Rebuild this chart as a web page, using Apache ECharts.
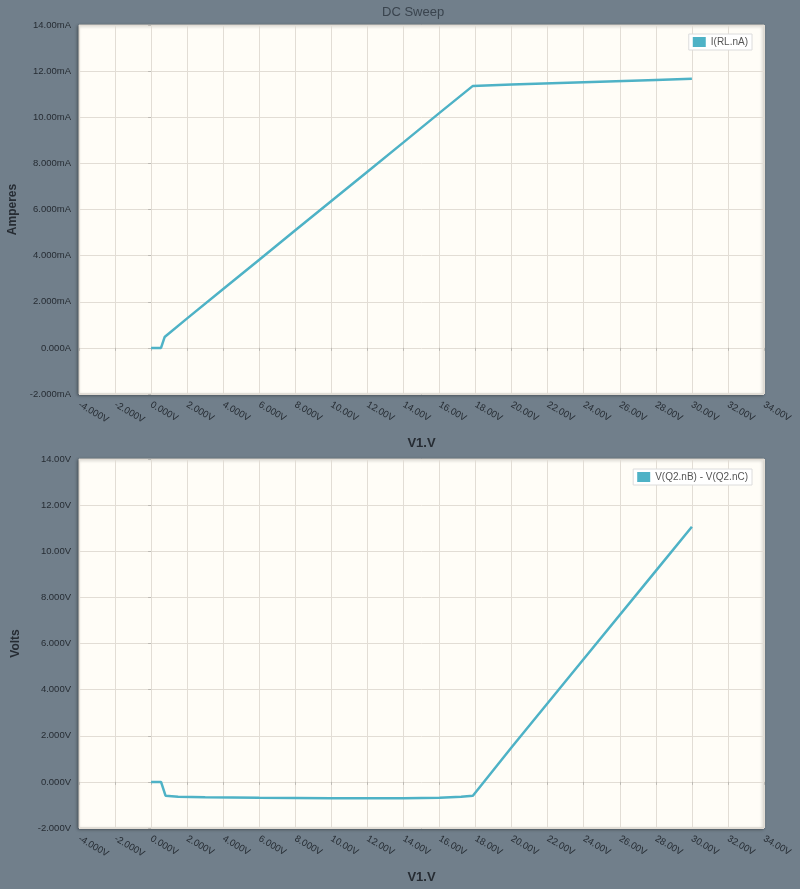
<!DOCTYPE html>
<html>
<head>
<meta charset="utf-8">
<title>DC Sweep</title>
<script src="https://cdn.jsdelivr.net/npm/echarts@6/dist/echarts.min.js"></script>
<style>
  html, body { margin: 0; padding: 0; background: #717f8b; }
  #chart { width: 800px; height: 889px; }
</style>
</head>
<body>
<div id="chart"></div>
<script>
// sweep V1.V (volts) vs I(RL.nA) in mA
const currentPoints = [
  [0, 0], [0.55, 0], [0.75, 0.47], [2, 1.28], [4, 2.55], [6, 3.82],
  [8, 5.1], [10, 6.37], [12, 7.64], [14, 8.91], [16, 10.19], [17.85, 11.36],
  [20, 11.42], [24, 11.52], [28, 11.62], [30, 11.67]
];

// sweep V1.V (volts) vs V(Q2.nB) - V(Q2.nC) in volts
const vbcPoints = [
  [0, 0], [0.55, 0], [0.8, -0.6], [1.5, -0.64], [3, -0.67], [6, -0.69],
  [10, -0.71], [14, -0.71], [16, -0.69], [17.2, -0.65], [17.85, -0.6],
  [20, 1.5], [24, 5.33], [28, 9.15], [30, 11.06]
];

const seriesNames = ["I(RL.nA)", "V(Q2.nB) - V(Q2.nC)"];
const xRange = [-4, 34];
const yRange = [-2, 14];

const lineColor = "#4eb2c6";
const textColor = "#262c33";
const gridColor = "#e2ddd5";

function fmt(v, unit, zeroUnit) {
  if (v === 0) return "0.000" + zeroUnit;
  const s = Math.abs(v) >= 10 ? v.toFixed(2) : v.toFixed(3);
  return s + unit;
}

const myChart = echarts.init(document.getElementById("chart"));

const gridBase = {
  left: 79,
  right: 36,
  height: 369,
  containLabel: false,
  outerBoundsMode: "none",
  show: true,
  backgroundColor: "#fffdf7",
  borderColor: "#d3cec6",
  borderWidth: 1,
  shadowColor: "rgba(0,0,0,0.35)",
  shadowBlur: 3,
  shadowOffsetX: -1,
  shadowOffsetY: 1
};

const xAxisBase = {
  type: "value",
  min: xRange[0],
  max: xRange[1],
  interval: 2,
  name: "V1.V",
  nameLocation: "middle",
  nameGap: 43,
  nameTextStyle: { color: textColor, fontSize: 13, fontWeight: "bold", fontFamily: "Liberation Sans" },
  axisLine: { show: false },
  axisTick: { show: true, length: 3, lineStyle: { color: "#bdbab4" } },
  splitLine: { show: true, lineStyle: { color: gridColor, width: 1 } },
  axisLabel: {
    rotate: -30,
    margin: 10,
    color: textColor,
    fontSize: 9.5,
    fontFamily: "Liberation Sans",
    formatter: (v) => fmt(v, "V", "V")
  }
};

const yAxisBase = {
  type: "value",
  min: yRange[0],
  max: yRange[1],
  interval: 2,
  nameLocation: "middle",
  nameGap: 57,
  nameTextStyle: { color: textColor, fontSize: 12, fontWeight: "bold", fontFamily: "Liberation Sans" },
  axisLine: { show: false },
  axisTick: { show: true, length: 3, lineStyle: { color: "#bdbab4" } },
  splitLine: { show: true, lineStyle: { color: gridColor, width: 1 } },
  axisLabel: { color: textColor, fontSize: 9.5, margin: 8, fontFamily: "Liberation Sans" }
};

const legendBase = {
  right: 48,
  orient: "vertical",
  backgroundColor: "#ffffff",
  borderColor: "#dcdcdc",
  borderWidth: 1,
  borderRadius: 0,
  padding: [3, 4, 3, 4],
  itemWidth: 13,
  itemHeight: 10,
  itemGap: 4,
  icon: "rect",
  textStyle: { color: "#555", fontSize: 10, fontFamily: "Liberation Sans" }
};

myChart.setOption({
  backgroundColor: "#717f8b",
  animation: false,
  title: {
    text: "DC Sweep",
    left: 377,
    top: 1,
    textStyle: { color: "#3a444e", fontSize: 13, fontWeight: "normal", fontFamily: "Liberation Sans" }
  },
  legend: [
    Object.assign({}, legendBase, { top: 34, data: [seriesNames[0]] }),
    Object.assign({}, legendBase, { top: 469, data: [seriesNames[1]] })
  ],
  grid: [
    Object.assign({}, gridBase, { top: 25 }),
    Object.assign({}, gridBase, { top: 459 })
  ],
  xAxis: [
    Object.assign({}, xAxisBase, { gridIndex: 0 }),
    Object.assign({}, xAxisBase, { gridIndex: 1 })
  ],
  yAxis: [
    Object.assign({}, yAxisBase, {
      gridIndex: 0,
      name: "Amperes",
      axisLabel: Object.assign({}, yAxisBase.axisLabel, { formatter: (v) => fmt(v, "mA", "A") })
    }),
    Object.assign({}, yAxisBase, {
      gridIndex: 1,
      name: "Volts",
      axisLabel: Object.assign({}, yAxisBase.axisLabel, { formatter: (v) => fmt(v, "V", "V") })
    })
  ],
  series: [
    {
      name: seriesNames[0],
      type: "line",
      xAxisIndex: 0,
      yAxisIndex: 0,
      data: currentPoints,
      showSymbol: false,
      itemStyle: { color: lineColor },
      lineStyle: { color: lineColor, width: 2.5 }
    },
    {
      name: seriesNames[1],
      type: "line",
      xAxisIndex: 1,
      yAxisIndex: 1,
      data: vbcPoints,
      showSymbol: false,
      itemStyle: { color: lineColor },
      lineStyle: { color: lineColor, width: 2.5 }
    }
  ]
});
</script>
</body>
</html>
